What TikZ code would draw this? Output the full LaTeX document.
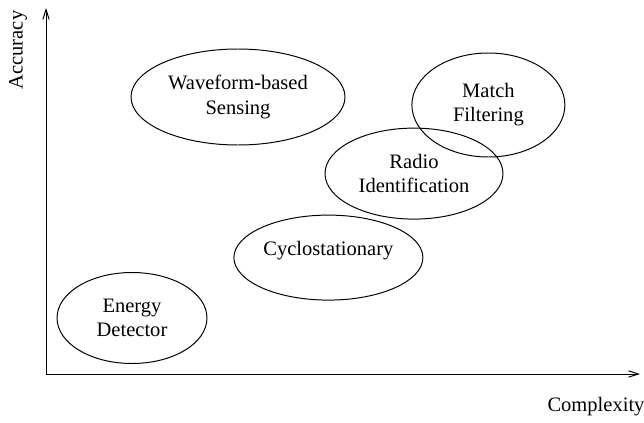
\documentclass[tikz,border=0pt]{standalone}
\usepackage{fontspec}
\setmainfont{Liberation Serif}
\usepackage{tikz}
\usetikzlibrary{shapes.geometric, arrows.meta, positioning}

\begin{document}
\begin{tikzpicture}[technique/.style={
                ellipse,
                draw,
                line width=0.7pt,
                inner sep=0pt,
                align=center,
                font=\fontsize{14.6}{17.1}\selectfont,
        },
        axis/.style={
                line width=0.7pt,
                -{Straight Barb[length=7pt, width=4.5pt]},
        }]
            \useasboundingbox (0, 0) rectangle (16.1, 10.55);
            \coordinate (origin) at (1.15, 1.2);
            \coordinate (ytop) at (1.15, 10.35);
            \coordinate (xend) at (16.0, 1.2);
            \draw[axis] (origin) -- (ytop);
            \draw[axis] (origin) -- (xend);
            \node[rotate=90, font=\fontsize{14.6}{17.1}\selectfont] (accuracy) at (0.45, 9.3) {Accuracy};
            \node[font=\fontsize{14.6}{17.1}\selectfont] (complexity) at (14.9, 0.38) {Complexity};
            \node[technique, minimum width=3.75cm, minimum height=2.275cm] (energy) at (3.3, 2.6) {Energy\\Detector};
            \node[technique, minimum width=4.725cm, minimum height=2.125cm, text depth=0.47cm] (cyclo) at (8.21, 4.11) {Cyclostationary};
            \node[technique, minimum width=5.35cm, minimum height=2.4cm] (waveform) at (5.95, 8.125) {Waveform-based\\Sensing};
            \node[technique, minimum width=4.45cm, minimum height=2.275cm] (radio) at (10.35, 6.21) {Radio\\Identification};
            \node[technique, minimum width=3.825cm, minimum height=2.6cm] (match) at (12.21, 7.925) {Match\\Filtering};
        \end{tikzpicture}
\end{document}
